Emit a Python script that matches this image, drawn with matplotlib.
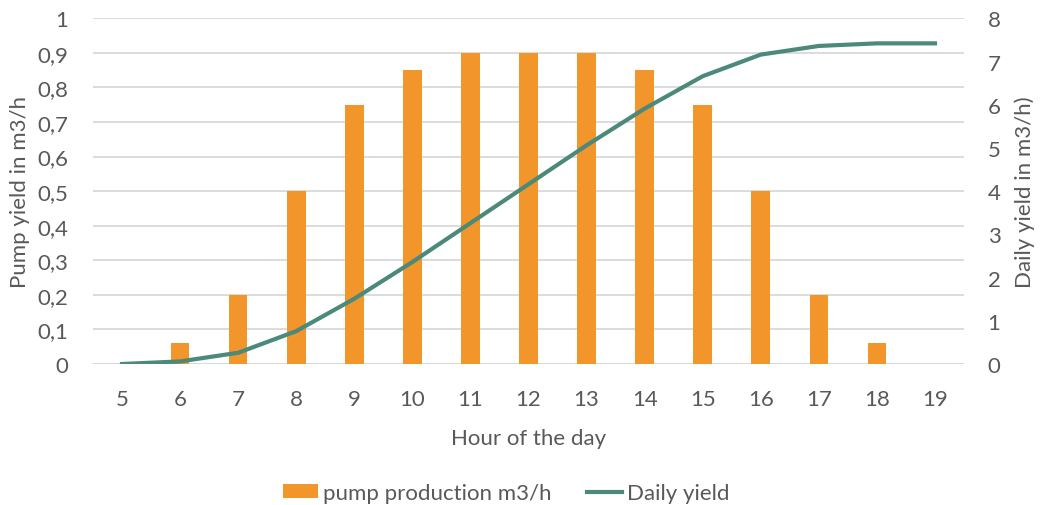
import matplotlib.pyplot as plt
from matplotlib.ticker import FuncFormatter

# Data
hours = [5, 6, 7, 8, 9, 10, 11, 12, 13, 14, 15, 16, 17, 18, 19]
pump = [0, 0.06, 0.2, 0.5, 0.75, 0.85, 0.9, 0.9, 0.9, 0.85, 0.75, 0.5, 0.2, 0.06, 0]
daily = [0, 0.06, 0.26, 0.76, 1.51, 2.36, 3.26, 4.16, 5.06, 5.91, 6.66, 7.16, 7.36, 7.42, 7.42]

orange = '#F2952B'
green = '#4B8A7A'
text_col = '#595959'
grid_col = '#D9D9D9'

plt.rcParams['font.family'] = ['Lato', 'DejaVu Sans']
plt.rcParams['font.size'] = 16

fig = plt.figure(figsize=(10.48, 5.06), dpi=100)
ax1 = fig.add_axes([93 / 1048, 1 - 365 / 506, (964 - 93) / 1048, (365 - 19.3) / 506])
x = list(range(len(hours)))

# Bars on the left axis
ax1.bar(x, pump, width=0.32, color=orange, label='pump production m3/h', zorder=2)
ax1.set_ylim(0, 1)
ax1.set_xlim(-0.5, len(hours) - 0.5)
ax1.set_yticks([i / 10 for i in range(11)])
ax1.yaxis.set_major_formatter(FuncFormatter(lambda v, p: ('%g' % round(v, 1)).replace('.', ',')))
ax1.set_xticks(x)
ax1.set_xticklabels([str(h) for h in hours])
ax1.grid(axis='y', color=grid_col, linewidth=1.3, zorder=0)
ax1.set_axisbelow(True)
ax1.tick_params(axis='both', length=0, colors=text_col, labelsize=16)
ax1.tick_params(axis='y', pad=18)
ax1.tick_params(axis='x', pad=18)
ax1.set_ylabel('Pump yield in m3/h', color=text_col, fontsize=16, labelpad=5)
ax1.set_xlabel('Hour of the day', color=text_col, fontsize=16, labelpad=14)
for s in ax1.spines.values():
    s.set_visible(False)
ax1.axhline(0, color=grid_col, linewidth=1.3, zorder=1)

# Line on the right axis
ax2 = ax1.twinx()
ax2.plot(x, daily, color=green, linewidth=3, label='Daily yield', zorder=3)
ax2.set_ylim(0, 8)
ax2.set_yticks(range(9))
ax2.tick_params(axis='y', length=0, colors=text_col, labelsize=16, pad=17)
ax2.set_ylabel('Daily yield in m3/h)', color=text_col, fontsize=16, labelpad=10)
for s in ax2.spines.values():
    s.set_visible(False)

# Legend
h1, l1 = ax1.get_legend_handles_labels()
h2, l2 = ax2.get_legend_handles_labels()
fig.legend(h1 + h2, l1 + l2, loc='center', bbox_to_anchor=(506 / 1048, 1 - 494 / 506),
           ncol=2, frameon=False, labelcolor=text_col, fontsize=16,
           handlelength=1.6, handleheight=0.6, handletextpad=0.2, columnspacing=1.6)

fig.savefig('out.png', dpi=100)
